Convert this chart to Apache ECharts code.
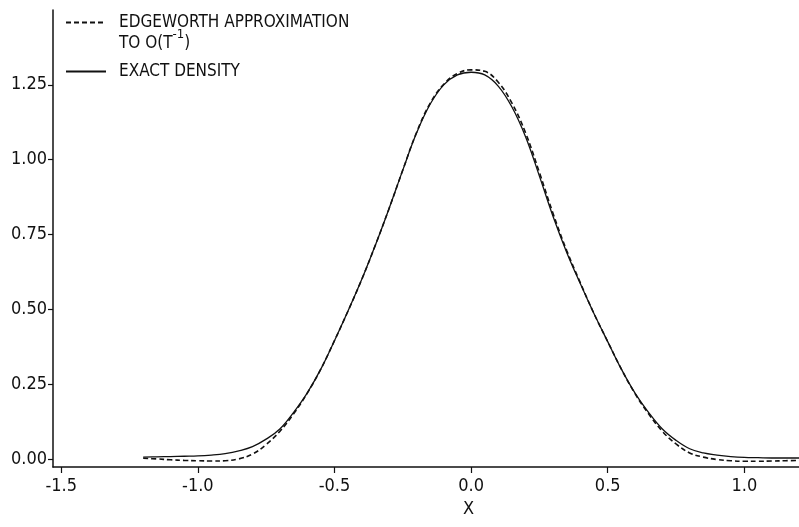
<!DOCTYPE html>
<html>
<head>
<meta charset="utf-8">
<title>Edgeworth approximation vs exact density</title>
<script src="https://cdn.jsdelivr.net/npm/echarts@6/dist/echarts.min.js"></script>
<style>
  html, body { margin: 0; padding: 0; background: #fff; }
  #chart { width: 799px; height: 527px; }
</style>
</head>
<body>
<div id="chart"></div>
<script>
// Grid of x values at which both densities are tabulated
var xValues = [
  -1.20, -1.15, -1.10, -1.05, -1.00, -0.95, -0.90, -0.85, -0.80, -0.75,
  -0.70, -0.65, -0.60, -0.55, -0.50, -0.45, -0.40, -0.35, -0.30, -0.25,
  -0.20, -0.15, -0.10, -0.05, 0.00, 0.05, 0.10, 0.15, 0.20, 0.25,
  0.30, 0.35, 0.40, 0.45, 0.50, 0.55, 0.60, 0.65, 0.70, 0.75,
  0.80, 0.85, 0.90, 0.95, 1.00, 1.05, 1.10, 1.15, 1.20
];

// Exact density
var exactDensity = [
  0.006, 0.007, 0.008, 0.009, 0.010, 0.013, 0.018, 0.027, 0.041, 0.066,
  0.100, 0.155, 0.220, 0.300, 0.395, 0.495, 0.600, 0.715, 0.837, 0.965,
  1.088, 1.185, 1.250, 1.283, 1.292, 1.283, 1.245, 1.175, 1.075, 0.945,
  0.810, 0.690, 0.585, 0.485, 0.392, 0.300, 0.220, 0.155, 0.100, 0.062,
  0.034, 0.020, 0.013, 0.008, 0.005, 0.004, 0.003, 0.003, 0.003
];

// Edgeworth approximation to O(T^-1)
var edgeworthApprox = [
  0.002, 0.000, -0.003, -0.005, -0.006, -0.007, -0.006, 0.000, 0.016, 0.048,
  0.092, 0.150, 0.219, 0.300, 0.395, 0.495, 0.600, 0.715, 0.837, 0.965,
  1.090, 1.188, 1.252, 1.288, 1.300, 1.295, 1.258, 1.188, 1.088, 0.957,
  0.820, 0.696, 0.588, 0.485, 0.392, 0.300, 0.218, 0.150, 0.092, 0.050,
  0.020, 0.006, -0.002, -0.006, -0.008, -0.008, -0.007, -0.006, -0.005
];

// Axis tick positions
var xTicks = [-1.5, -1.0, -0.5, 0.0, 0.5, 1.0];
var yTicks = [0.00, 0.25, 0.50, 0.75, 1.00, 1.25];

var seriesNames = ['EDGEWORTH APPROXIMATION', 'EXACT DENSITY'];

function pairs(xs, ys) {
  return xs.map(function (x, i) { return [x, ys[i]]; });
}

var FONT = "'Liberation Sans Narrow', 'DejaVu Sans Condensed', 'Roboto Condensed', 'Noto Sans', sans-serif";
var INK = '#111';

var chart = echarts.init(document.getElementById('chart'), null, { renderer: 'canvas' });

chart.setOption({
  backgroundColor: '#fff',
  animation: false,
  grid: { left: 53, right: 0, top: 10, bottom: 60 },
  legend: {
    orient: 'vertical',
    left: 65,
    top: 14,
    padding: 0,
    itemWidth: 40,
    itemHeight: 14,
    itemGap: 32,
    selectedMode: false,
    data: seriesNames,
    // line-only keys: the symbol in the middle of each key is hidden
    itemStyle: { opacity: 0 },
    textStyle: { fontFamily: FONT, fontSize: 17, color: INK, padding: [0, 0, 0, 8] }
  },
  graphic: [
    {
      type: 'text',
      left: 119,
      top: 28,
      style: {
        text: '{n|TO O(T}{s|-1}{n|)}',
        fill: INK,
        rich: {
          n: { fontFamily: FONT, fontSize: 17, color: INK, verticalAlign: 'bottom', lineHeight: 24 },
          s: { fontFamily: FONT, fontSize: 13, color: INK, verticalAlign: 'top', lineHeight: 24 }
        }
      }
    },
    {
      type: 'text',
      left: 463,
      top: 500,
      style: { text: 'X', fontFamily: FONT, fontSize: 18, fill: INK }
    }
  ],
  xAxis: {
    type: 'value',
    min: -1.53,
    max: 1.2,
    axisLine: { show: true, onZero: false, lineStyle: { color: INK, width: 1.5 } },
    axisTick: { show: true, length: 6, customValues: xTicks, lineStyle: { color: INK, width: 1.2 } },
    axisLabel: {
      customValues: xTicks,
      margin: 10,
      fontFamily: FONT,
      fontSize: 18,
      color: INK,
      formatter: function (v) { return v.toFixed(1); }
    },
    splitLine: { show: false }
  },
  yAxis: {
    type: 'value',
    min: -0.027,
    max: 1.5,
    axisLine: { show: true, onZero: false, lineStyle: { color: INK, width: 1.5 } },
    axisTick: { show: true, length: 5, customValues: yTicks, lineStyle: { color: INK, width: 1.2 } },
    axisLabel: {
      customValues: yTicks,
      margin: 6,
      fontFamily: FONT,
      fontSize: 18,
      color: INK,
      formatter: function (v) { return v.toFixed(2); }
    },
    splitLine: { show: false }
  },
  series: [
    {
      name: seriesNames[0],
      type: 'line',
      data: pairs(xValues, edgeworthApprox),
      symbol: 'none',
      smooth: 0.4,
      lineStyle: { color: INK, width: 1.6, type: [5, 3] },
      itemStyle: { color: INK },
      z: 3
    },
    {
      name: seriesNames[1],
      type: 'line',
      data: pairs(xValues, exactDensity),
      symbol: 'none',
      smooth: 0.4,
      lineStyle: { color: INK, width: 1.3, type: 'solid' },
      itemStyle: { color: INK },
      z: 2
    }
  ]
});
</script>
</body>
</html>
